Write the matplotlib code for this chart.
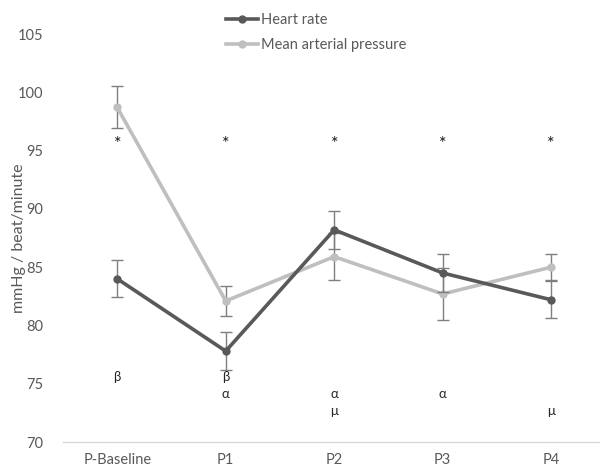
import matplotlib
matplotlib.use("Agg")
import matplotlib.pyplot as plt
from matplotlib.lines import Line2D

plt.rcParams['font.family'] = ['Lato', 'DejaVu Sans']

# data
categories = ['P-Baseline', 'P1', 'P2', 'P3', 'P4']
heart_rate = [84.0, 77.8, 88.2, 84.5, 82.2]
heart_rate_err = [1.6, 1.6, 1.6, 1.6, 1.6]
map_values = [98.7, 82.1, 85.9, 82.7, 85.0]
map_err = [1.8, 1.3, 2.0, 2.2, 1.1]

# significance marks per category (text, y level)
stars = ['*', '*', '*', '*', '*']
star_y = 95.6
beta_marks = ['β', 'β', '', '', '']
beta_y = 75.6
alpha_marks = ['', 'α', 'α', 'α', '']
alpha_y = 74.1
mu_marks = ['', '', 'μ', '', 'μ']
mu_y = 72.7

dark = '#595959'
light = '#bfbfbf'
text_col = '#595959'

fig = plt.figure(figsize=(6, 4.73), dpi=100)
ax = fig.add_axes([0.105, 0.0655, 0.895, 0.8626])

x = list(range(len(categories)))

ax.errorbar(x, heart_rate, yerr=heart_rate_err, color=dark, lw=2.6,
            marker='o', ms=5, ecolor='#7f7f7f', elinewidth=1, capsize=4,
            capthick=1, zorder=3)
ax.errorbar(x, map_values, yerr=map_err, color=light, lw=2.6,
            marker='o', ms=5, ecolor='#7f7f7f', elinewidth=1, capsize=4,
            capthick=1, zorder=2)

for i in x:
    ax.text(i, star_y, stars[i], ha='center', va='center', fontsize=13, color='#1a1a1a')
    if beta_marks[i]:
        ax.text(i, beta_y, beta_marks[i], ha='center', va='center', fontsize=9.5, color='#262626')
    if alpha_marks[i]:
        ax.text(i, alpha_y, alpha_marks[i], ha='center', va='center', fontsize=9.5, color='#262626')
    if mu_marks[i]:
        ax.text(i, mu_y, mu_marks[i], ha='center', va='center', fontsize=9.5, color='#262626')

ax.set_xlim(-0.5, 4.45)
ax.set_ylim(70, 105)
ax.set_yticks(range(70, 106, 5))
ax.set_xticks(x)
ax.set_xticklabels(categories)
ax.tick_params(axis='both', length=0, labelsize=10.5, labelcolor=text_col)
ax.tick_params(axis='y', pad=14)
ax.tick_params(axis='x', pad=8)

for s in ['top', 'right', 'left']:
    ax.spines[s].set_visible(False)
ax.spines['bottom'].set_color('#d9d9d9')
ax.spines['bottom'].set_linewidth(1)

ax.set_ylabel('mmHg / beat/minute', fontsize=11.5, color=text_col)
ax.yaxis.set_label_coords(-0.068, 0.5)

handles = [Line2D([], [], color=dark, lw=2.6, marker='o', ms=5),
           Line2D([], [], color=light, lw=2.6, marker='o', ms=5)]
labels = ['Heart rate', 'Mean arterial pressure']
fig.legend(handles, labels, loc='upper left', bbox_to_anchor=(0.355, 1.0),
           frameon=False, fontsize=10.5, labelcolor=text_col,
           handlelength=2.2, handletextpad=0.2, labelspacing=0.75)

fig.savefig('out.png', dpi=100)
